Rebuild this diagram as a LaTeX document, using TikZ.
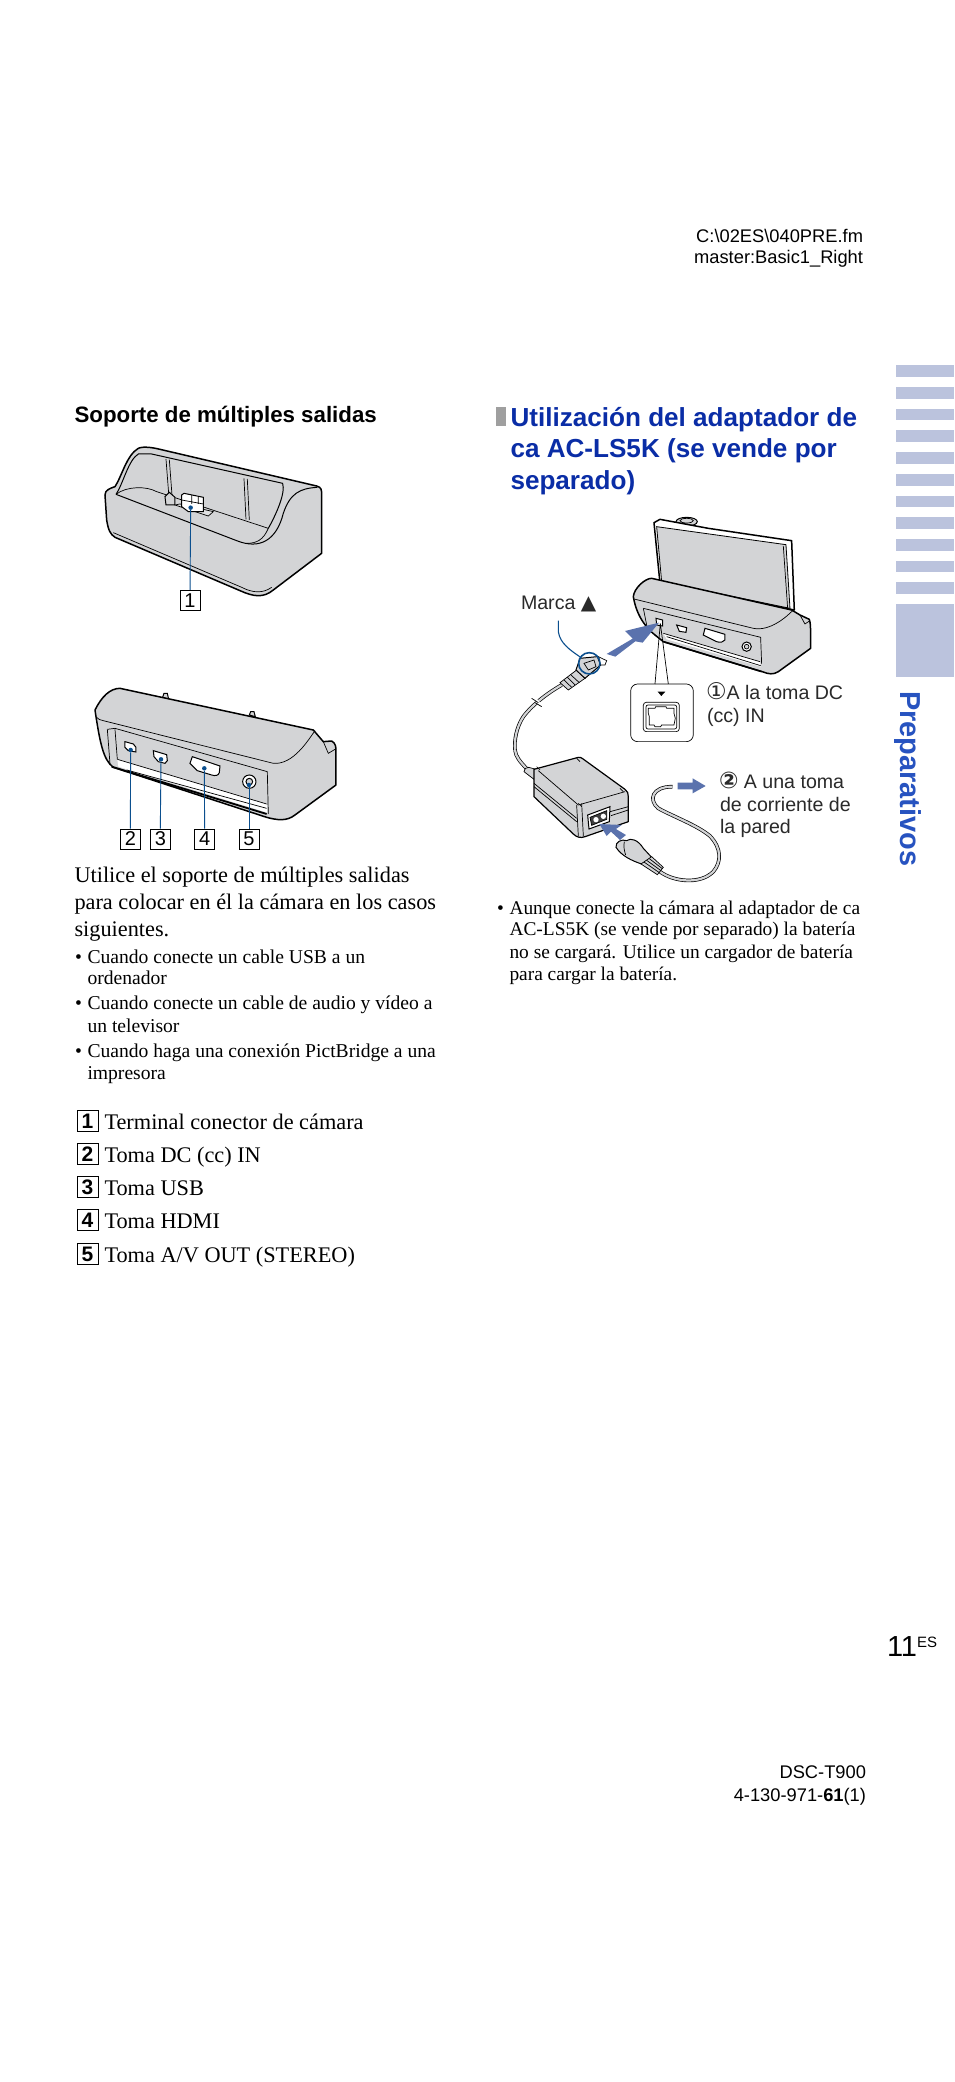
\documentclass[tikz,border=0pt]{standalone}
\usepackage{fontspec}
\setmainfont{Liberation Serif}
\setsansfont{Liberation Sans}
\newfontfamily\dv{DejaVu Sans}
\newcommand{\fs}[1]{\fontsize{#1}{#1}\selectfont}
\definecolor{bodygray}{HTML}{D3D4D6}
\definecolor{leader}{HTML}{0B4F8E}
\definecolor{arrowblue}{HTML}{5A72AD}
\definecolor{sidebar}{HTML}{BBC3DD}
\definecolor{headblue}{HTML}{0A2DA6}
\definecolor{sideblue}{HTML}{2753C0}
\definecolor{lighttxt}{HTML}{2A2A2A}
\tikzset{
 txt/.style={anchor=base west,inner sep=0pt,outer sep=0pt,align=left},
 rtxt/.style={anchor=base east,inner sep=0pt,outer sep=0pt},
 bodyt/.style={txt,font=\fs{22.3}},
 smallt/.style={txt,font=\fs{19.6}},
 notet/.style={txt,font=\fs{19.4}},
 hdr/.style={rtxt,font=\sffamily\fs{18.3}},
 numbox/.style={draw=black,line width=0.8pt,minimum size=20pt,inner sep=0pt,font=\sffamily\fs{20}},
 figlab/.style={txt,font=\sffamily\fs{19.6},text=lighttxt},
 shell/.style={draw=black,line width=1.5pt,fill=bodygray,line join=round},
 thin/.style={draw=black,line width=0.7pt},
 mid/.style={draw=black,line width=1pt},
 lead/.style={draw=leader,line width=0.9pt},
 dot/.style={circle,fill=leader,inner sep=0pt,minimum size=4.5pt},
 harrow/.style={fill=arrowblue,draw=none},
 cable/.style={draw=black,line width=0.7pt,double=bodygray,double distance=2.2pt},
 bar/.style={fill=sidebar,draw=none},
 zoomA/.style={shift={(60pt,-380pt)},x=0.3333pt,y=-0.3333pt},
 zoomB/.style={shift={(60pt,-660pt)},x=0.3333pt,y=-0.3333pt},
 zoomC/.style={shift={(490pt,-500pt)},x=0.3333pt,y=-0.3333pt},
 zoomD/.style={shift={(490pt,-700pt)},x=0.3333pt,y=-0.3333pt},
 zoomE/.style={shift={(510pt,-750pt)},x=0.3333pt,y=-0.3333pt},
}
\begin{document}
\begin{tikzpicture}[x=1pt,y=-1pt]
\useasboundingbox (0,0) rectangle (954,2082);
\fill[white] (0,0) rectangle (954,2082);
% header
\node[hdr] (h1) at (863,242) {C:\textbackslash 02ES\textbackslash 040PRE.fm};
\node[hdr] (h2) at (863,263) {master:Basic1\_Right};
% sidebar
\foreach \a/\b in {44/78,107/141,171/203,232/267,296/331,360/395,424/456,485/520,549/584,613/645,674/709,738/951}
  \fill[bar] (896,{350+\a/2.904}) rectangle (954,{350+\b/2.904});
\node[anchor=base west,inner sep=0pt,rotate=-90,font=\sffamily\bfseries\fs{28.9},text=sideblue] (side) at (900.5,691) {Preparativos};
% headings
\node[txt,font=\sffamily\bfseries\fs{22.3}] (h3) at (74.5,422) {Soporte de múltiples salidas};
\fill[gray!75] (496,407) rectangle (506,426);
\node[txt,font=\sffamily\bfseries\fs{26.1},text=headblue] (r1) at (510.5,426) {Utilización del adaptador de};
\node[txt,font=\sffamily\bfseries\fs{26.1},text=headblue] (r2) at (510.5,457.5) {ca AC-LS5K (se vende por};
\node[txt,font=\sffamily\bfseries\fs{26.1},text=headblue] (r3) at (510.5,489) {separado)};
% left text
\node[bodyt] (b1) at (74.5,882) {Utilice el soporte de múltiples salidas};
\node[bodyt] (b2) at (74.5,909) {para colocar en él la cámara en los casos};
\node[bodyt] (b3) at (74.5,936) {siguientes.};
\foreach \n/\y in {a/963,c/1009,e/1057} \node[smallt] (bu\n) at (75,\y) {•};
\node[smallt] (c1) at (87.5,963) {Cuando conecte un cable USB a un};
\node[smallt] (c2) at (87.5,984) {ordenador};
\node[smallt] (c3) at (87.5,1009) {Cuando conecte un cable de audio y vídeo a};
\node[smallt] (c4) at (87.5,1032) {un televisor};
\node[smallt] (c5) at (87.5,1057) {Cuando haga una conexión PictBridge a una};
\node[smallt] (c6) at (87.5,1079) {impresora};
% list
\foreach \n/\y/\t in {1/1129/{Terminal conector de cámara},2/1162/{Toma DC (cc) IN},3/1195/{Toma USB},4/1228/{Toma HDMI},5/1262/{Toma A/V OUT (STEREO)}}{
  \node[numbox,minimum size=21pt,anchor=center,line width=1pt,font=\sffamily\bfseries\fs{21}] (l\n) at (87.5,\y-8) {\n};
  \node[bodyt] (lt\n) at (104.5,\y) {\t};
}
% right note
\node[notet] (nb) at (497,914) {•};
\node[notet] (n1) at (509.5,914) {Aunque conecte la cámara al adaptador de ca};
\node[notet] (n2) at (509.5,935) {AC-LS5K (se vende por separado) la batería};
\node[notet] (n3) at (509.5,958) {no se cargará. Utilice un cargador de batería};
\node[notet] (n4) at (509.5,980) {para cargar la batería.};
% page
\node[txt,font=\sffamily\fs{29}] (p1) at (887,1656) {11};
\node[txt,font=\sffamily\fs{15}] (p2) at (917,1647) {ES};
\node[hdr] (f1) at (866,1778) {DSC-T900};
\node[hdr] (f2) at (866,1801) {4-130-971-\textbf{61}(1)};

% ---------- dock A
\begin{scope}[zoomA]
\path[shell] (135,345) .. controls (135,330) and (150,325) .. (165,320) .. controls (185,290) and (200,225) .. (235,205) .. controls (250,198) and (280,203) .. (300,208) -- (770,318) .. controls (785,322) and (785,330) .. (785,345) -- (785,520) -- (640,630) .. controls (610,655) and (580,650) .. (540,632) -- (165,472) .. controls (150,462) and (145,450) .. (140,420) -- cycle;
\draw[mid] (168,343) .. controls (190,310) and (205,240) .. (235,222) -- (275,222) -- (668,310) .. controls (678,340) and (645,410) .. (625,445);
\draw[mid] (168,343) -- (530,482) .. controls (600,510) and (650,480) .. (670,400) .. controls (690,340) and (720,325) .. (772,322);
\draw[thin] (168,343) .. controls (200,318) and (260,318) .. (290,335) -- (625,445) .. controls (610,480) and (590,490) .. (560,490);
\draw[thin] (318,237) -- (326,340) (328,239) -- (336,345);
\draw[thin] (552,295) -- (558,418) (562,297) -- (568,420);
\draw[thin] (160,458) -- (545,622) .. controls (580,640) and (610,640) .. (635,622);
% connector
\draw[thin,fill=bodygray!70] (345,375) -- (360,372) -- (460,395) -- (445,408) -- cycle;
\draw[mid,fill=bodygray] (318,375) -- (315,350) -- (328,337) -- (345,352) -- (345,375) -- cycle;
\draw[mid,fill=white] (365,345) -- (372,340) -- (430,352) -- (430,395) -- (385,395) -- (365,380) -- cycle;
\draw[thin] (365,360) -- (430,372) (395,345) -- (395,372) (415,350) -- (415,372);
\node[dot] (d1) at (392,383) {};
\node[numbox] (n1box) at (390,661) {1};
\draw[lead] (n1box) -- (d1);
\end{scope}

% ---------- dock B
\begin{scope}[zoomB]
\draw[mid,fill=bodygray] (308,112) -- (312,100) -- (322,100) -- (326,118) -- cycle;
\draw[mid,fill=bodygray] (568,165) -- (572,155) -- (582,155) -- (586,170) -- cycle;
\path[shell] (105,150) .. controls (125,110) and (150,85) .. (180,85) -- (760,210) -- (790,245) -- (815,243) .. controls (828,250) and (828,262) .. (828,275) -- (828,375) -- (705,465) .. controls (680,485) and (650,480) .. (620,472) -- (160,322) .. controls (130,300) and (120,250) .. (105,150) -- cycle;
\draw[thin] (110,172) .. controls (115,178) and (120,180) .. (130,182) -- (640,310) .. controls (700,315) and (745,240) .. (765,212);
\draw[thin] (790,245) -- (805,280) -- (825,268);
\draw[thin] (142,208) -- (165,205) -- (622,335) -- (625,462);
\draw[thin] (142,208) -- (150,312) (165,208) -- (172,298);
\fill[white] (172,298) -- (620,432) -- (622,458) -- (175,320) -- cycle;
\draw[thin] (172,298) -- (620,432) (200,330) -- (620,445);
\draw[line width=1.8pt] (155,320) -- (620,462);
\draw[mid,fill=white] (195,245) -- (220,252) -- (228,262) -- (228,276) -- (205,272) -- (195,262) -- cycle;
\draw[mid,fill=white] (280,272) -- (320,284) -- (322,302) -- (315,310) -- (295,305) -- (282,290) -- cycle;
\draw[mid,fill=white] (397,290) -- (480,318) -- (478,338) .. controls (475,348) and (465,348) .. (455,345) -- (412,332) -- (390,310) -- cycle;
\draw[mid,fill=white] (568,365) circle[radius=20];
\draw[mid,fill=bodygray] (568,365) circle[radius=10];
\node[dot] (d2) at (212,270) {};
\node[dot] (d3) at (303,298) {};
\node[dot] (d4) at (433,325) {};
\node[dot] (d5) at (567,375) {};
\node[numbox] (n2box) at (211,537) {2};
\node[numbox] (n3box) at (301,537) {3};
\node[numbox] (n4box) at (434,537) {4};
\node[numbox] (n5box) at (567,537) {5};
\foreach \i in {2,...,5} \draw[lead] (n\i box.north) -- (d\i);
\end{scope}

% ---------- camera and dock
\begin{scope}[zoomC]
\draw[mid,fill=bodygray] (590,65) ellipse[x radius=32,y radius=13];
\draw[thin] (590,62) ellipse[x radius=20,y radius=7];
\path[shell,fill=white] (492,68) -- (510,58) -- (655,85) -- (905,122) -- (913,330) -- (510,250) -- cycle;
\path[draw=black,line width=0.8pt,fill=bodygray] (500,80) -- (888,134) -- (900,325) -- (515,245) -- cycle;
\draw[thin] (880,138) -- (893,325);
\path[shell] (430,290) .. controls (432,265) and (465,235) .. (485,235) -- (905,330) -- (930,345) -- (958,358) .. controls (962,370) and (962,380) .. (962,445) -- (865,515) .. controls (850,525) and (835,522) .. (820,516) -- (520,425) -- (495,405) .. controls (470,385) and (440,350) .. (430,290) -- cycle;
\draw[thin] (432,297) -- (790,385) .. controls (840,395) and (890,350) .. (908,332);
\draw[thin] (930,345) -- (945,372) -- (960,362);
\draw[thin] (460,325) -- (812,412) -- (815,492);
\draw[thin] (460,325) -- (472,385);
\fill[white] (520,400) -- (810,485) -- (812,500) -- (530,418) -- cycle;
\draw[thin] (520,400) -- (810,485) (530,410) -- (812,497);
\draw[line width=1.5pt] (520,425) -- (815,515);
\draw[mid,fill=white] (498,355) -- (518,360) -- (518,378) -- (500,375) -- cycle;
\draw[mid,fill=white] (560,375) -- (590,383) -- (588,397) -- (568,394) -- cycle;
\draw[mid,fill=white] (645,385) -- (705,403) -- (705,420) .. controls (700,428) and (690,428) .. (680,425) -- (640,405) -- cycle;
\draw[mid,fill=white] (770,440) circle[radius=14];
\draw[thin,fill=bodygray] (770,440) circle[radius=7];
% inset
\coordinate (pt) at (511,370);
\draw[thin,fill=white,rounded corners=7pt] (422,552) rectangle (610,725);
\coordinate (il) at (495,552);
\coordinate (ir) at (535,552);
\draw[thin] (pt) -- (il) (pt) -- (ir);
\fill[black] (503,575) -- (526,575) -- (514,588) -- cycle;
\draw[thin,fill=white,rounded corners=3pt] (460,607) rectangle (568,695);
\draw[thin,rounded corners=2pt] (468,615) rectangle (560,687);
\draw[thin] (475,625) -- (495,625) -- (497,620) -- (528,620) -- (530,625) -- (552,625) -- (552,640) -- (556,655) -- (552,675) -- (515,675) -- (512,680) -- (495,680) -- (492,675) -- (478,675) -- (478,650) -- (475,640) -- cycle;
% plug and cable
\draw[cable] (215,555) .. controls (180,575) and (130,610) .. (100,650) .. controls (80,680) and (72,720) .. (75,750);
\draw[white,line width=2.5pt] (130,590) -- (155,620);
\draw[thin] (125,595) -- (145,608) (135,608) -- (155,620);
\draw[thin,fill=bodygray] (210,548) -- (260,510) -- (285,535) -- (235,570) -- cycle;
\draw[thin] (222,540) -- (245,562) (232,532) -- (255,555) (243,525) -- (268,548);
\path[draw=black,line width=1pt,fill=bodygray] (258,510) -- (270,475) -- (322,470) -- (332,495) -- (285,535) -- cycle;
\draw[thin,fill=white] (325,470) -- (350,482) -- (345,495) -- (332,495) -- cycle;
\draw[thin] (282,490) -- (312,480) -- (318,500) -- (295,510) -- cycle;
\draw[leader,line width=1.6pt] (298,490) circle[radius=32];
\coordinate (mk) at (272,472);
\coordinate (ml) at (205,362);
\draw[lead,line width=1.1pt] (ml) -- (205,395) .. controls (210,430) and (240,450) .. (mk);
\fill[harrow] (350,462) -- (428,416) -- (405,393) -- (507,368) -- (458,428) -- (436,424) -- (376,470) -- cycle;
\end{scope}

\begin{scope}[zoomD]
\draw[cable] (75,150) .. controls (77,170) and (90,185) .. (112,208);
\end{scope}

% ---------- adapter
\begin{scope}[zoomE]
\draw[thin,fill=bodygray] (42,65) .. controls (44,55) and (50,52) .. (56,52) -- (78,58) -- (72,88) -- cycle;
\path[shell,line width=1.2pt] (72,58) -- (205,22) .. controls (210,21) and (214,23) .. (218,26) -- (345,118) .. controls (353,124) and (355,130) .. (355,140) -- (355,215) -- (225,260) .. controls (212,265) and (200,262) .. (190,252) -- (72,140) -- cycle;
\draw[thin] (85,62) -- (205,165) -- (345,125);
\draw[thin] (72,100) -- (200,205) (72,110) -- (200,215);
\draw[thin] (200,165) -- (205,258) (215,160) -- (220,258);
\draw[thin] (300,185) -- (355,170) (303,197) -- (355,180);
\draw[thin] (80,50) -- (90,60) (200,25) -- (210,35) (330,115) -- (340,125) (205,160) -- (215,170);
\draw[mid,fill=white] (233,195) -- (300,170) -- (298,215) -- (237,237) -- cycle;
\draw[thin,fill=black!75] (240,202) -- (290,182) -- (290,208) -- (245,226) -- cycle;
\fill[white] (258,209) circle[radius=8] (280,199) circle[radius=8];
% cord
\coordinate (pe) at (450,365);
\coordinate (ce) at (488,110);
\draw[cable] (pe) .. controls (490,395) and (570,405) .. (610,365) .. controls (635,335) and (635,295) .. (600,258) .. controls (560,225) and (490,200) .. (445,175) .. controls (415,150) and (425,110) .. (ce);
\path[draw=black,line width=1pt,fill=bodygray] (318,292) .. controls (316,276) and (335,266) .. (350,272) .. controls (362,262) and (385,270) .. (400,295) -- (425,322) -- (395,342) .. controls (365,332) and (335,318) .. (318,292) -- cycle;
\draw[thin] (343,275) .. controls (340,290) and (343,302) .. (347,315);
\draw[thin,fill=bodygray] (393,342) -- (425,320) -- (460,352) -- (442,374) -- cycle;
\draw[thin] (402,336) -- (448,368) (410,331) -- (453,362) (418,326) -- (457,356);
\fill[harrow] (268,222) -- (335,225) -- (318,237) -- (348,255) -- (330,270) -- (303,245) -- (290,258) -- cycle;
\fill[harrow] (503,98) -- (548,98) -- (548,85) -- (587,108) -- (548,130) -- (548,118) -- (503,118) -- cycle;
\end{scope}

% figure labels
\node[figlab] (m1) at (521,609) {Marca {\dv\fs{20}▲}};
\node[figlab] (a1) at (706,699) {{\dv\fs{23}①}A la toma DC};
\node[figlab] (a2) at (707,722) {(cc) IN};
\node[figlab] (a3) at (719,788) {{\dv\bfseries\fs{23}②} A una toma};
\node[figlab] (a4) at (720,811) {de corriente de};
\node[figlab] (a5) at (720,833) {la pared};
\end{tikzpicture}
\end{document}
